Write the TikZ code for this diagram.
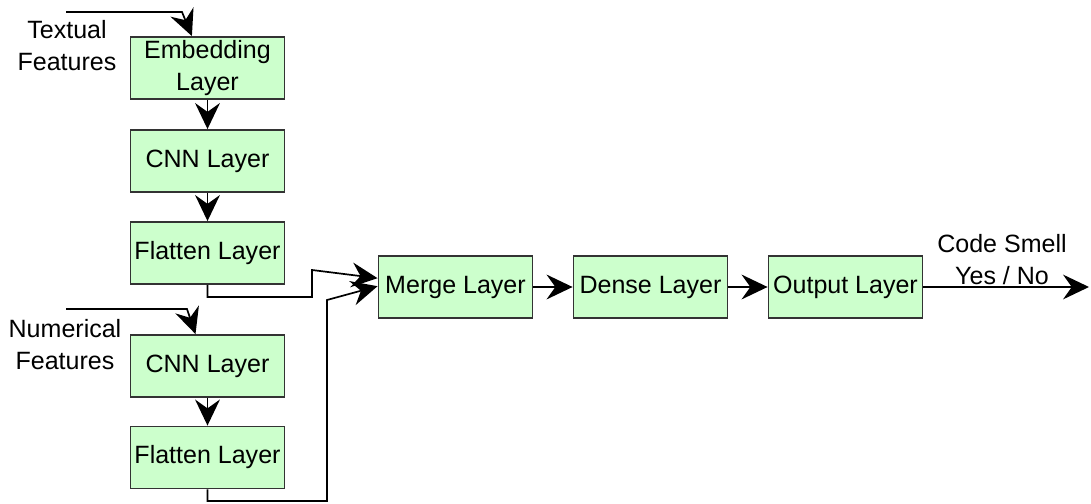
\documentclass[tikz,border=0pt]{standalone}
\usepackage{fontspec}
\setmainfont{Liberation Sans}
\usetikzlibrary{arrows.meta}

\begin{document}
\begin{tikzpicture}[x=0.025cm,y=-0.025cm,
		font=\fontsize{17.8}{22.7}\selectfont,
		layer/.style={draw=black!80,line width=1.3pt,fill=green!20,minimum width=3.85cm,minimum height=1.55cm,inner sep=0pt,align=center},
		lbl/.style={align=center,inner sep=0pt},
		arr/.style={line width=1.2pt,-{Stealth[length=0.65cm,width=0.62cm,inset=0.22cm]}}]
	\useasboundingbox (0,0) rectangle (1091,504);
	% text branch
	\node[layer] (emb) at (207.5,68) {Embedding\\Layer};
	\node[layer] (cnnA) at (207.5,161) {CNN Layer};
	\node[layer] (flatA) at (207.5,253) {Flatten Layer};
	% numeric branch
	\node[layer] (cnnB) at (207.5,366) {CNN Layer};
	\node[layer] (flatB) at (207.5,457.5) {Flatten Layer};
	% main line
	\node[layer] (merge) at (455.5,287) {Merge Layer};
	\node[layer] (dense) at (650.5,287) {Dense Layer};
	\node[layer] (outp) at (845.5,287) {Output Layer};
	\node[lbl] (txtIn) at (67,46) {Textual\\Features};
	\node[lbl] (numIn) at (65,345) {Numerical\\Features};
	\node[lbl] (smell) at (1002,260) {Code Smell\\Yes / No};
	\coordinate (inA) at (66,12);
	\coordinate (inB) at (66,309);
	\coordinate (outEnd) at (1089,287);
	\draw[arr] (inA) -- (182,12) -- ([xshift=-0.39cm]emb.north);
	\draw[arr] (emb) -- (cnnA);
	\draw[arr] (cnnA) -- (flatA);
	\draw[arr] (inB) -- (187,309) -- ([xshift=-0.3cm]cnnB.north);
	\draw[arr] (cnnB) -- (flatB);
	\draw[arr] (flatA.south) |- (312,297) -- (312,270) -- ([yshift=0.22cm]merge.west);
	\draw[arr] (flatB.south) |- (327,501) -- (327,300) -- ([yshift=0.02cm]merge.west);
	\draw[arr] (merge) -- (dense);
	\draw[arr] (dense) -- (outp);
	\draw[arr] (outp) -- (outEnd);
\end{tikzpicture}
\end{document}
